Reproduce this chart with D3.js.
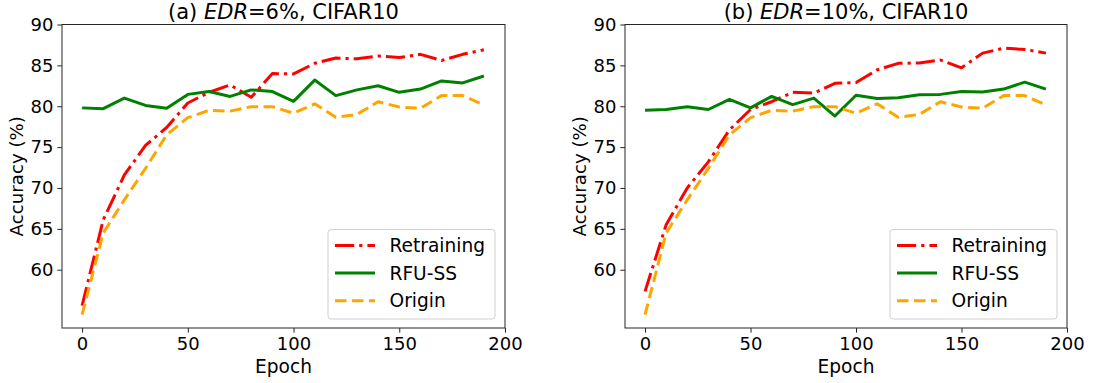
<!DOCTYPE html>
<html>
<head>
<meta charset="utf-8">
<script src="https://cdn.jsdelivr.net/npm/d3@7"></script>
<style>
  html, body { margin: 0; padding: 0; background: #fff; }
  svg { display: block; font-family: "DejaVu Sans", sans-serif; }
</style>
</head>
<body>
<svg id="chart" width="1095" height="383"></svg>
<script>
// ---- data ----
const epochs = [0,10,20,30,40,50,60,70,80,90,100,110,120,130,140,150,160,170,180,190];

const retrainingA = [55.6,66.1,71.6,75.2,77.4,80.4,81.7,82.6,81.1,84.0,83.95,85.25,85.9,85.8,86.15,85.95,86.35,85.6,86.35,86.9];
const rfuA        = [79.8,79.7,81.0,80.1,79.75,81.45,81.8,81.2,82.0,81.8,80.6,83.2,81.3,82.0,82.5,81.7,82.1,83.1,82.85,83.7];
const originA     = [54.5,64.5,68.55,72.4,76.5,78.6,79.5,79.4,79.95,79.95,79.15,80.3,78.65,79.0,80.55,79.9,79.75,81.3,81.3,80.15];

const retrainingB = [57.35,65.5,70.0,73.2,77.1,79.6,80.55,81.7,81.6,82.8,82.9,84.45,85.25,85.3,85.65,84.7,86.5,87.1,86.95,86.5];
const rfuB        = [79.5,79.6,79.95,79.6,80.85,79.8,81.2,80.2,81.0,78.8,81.35,80.95,81.05,81.4,81.45,81.8,81.75,82.1,82.95,82.1];
const originB     = [54.5,64.5,68.55,72.4,76.5,78.6,79.5,79.4,79.95,79.95,79.15,80.3,78.65,79.0,80.55,79.9,79.75,81.3,81.3,80.15];

const xTicks = [0,50,100,150,200];
const yTicks = [60,65,70,75,80,85,90];
const seriesNames = ["Retraining","RFU-SS","Origin"];
const titlesPrefix = ["(a) ","(b) "];
const titlesRate = ["=6%, CIFAR10","=10%, CIFAR10"];
const xLabel = "Epoch";
const yLabel = "Accuracy (%)";

// ---- styles ----
const colors = ["#ff0000","#008000","#ffa500"];
const dashes = ["19.2,5,3.2,5", null, "11.5,5.5"];
const lw = 3;

const svg = d3.select("#chart");

const panels = [
  {left: 62, right: 505, data: [retrainingA, rfuA, originA]},
  {left: 625, right: 1067, data: [retrainingB, rfuB, originB]}
];
const plotTop = 24.5, plotBottom = 328;

panels.forEach((p, i) => {
  const x = d3.scaleLinear().domain([-9.5, 200]).range([p.left, p.right]);
  const y = d3.scaleLinear().domain([52.87, 90]).range([plotBottom, plotTop]);
  const g = svg.append("g");

  // lines
  p.data.forEach((vals, k) => {
    const line = d3.line().x((d, j) => x(epochs[j])).y(d => y(d));
    g.append("path")
      .datum(vals)
      .attr("d", line)
      .attr("fill", "none")
      .attr("stroke", colors[k])
      .attr("stroke-width", lw)
      .attr("stroke-linejoin", "round")
      .attr("stroke-dasharray", dashes[k]);
  });

  // frame
  g.append("rect")
    .attr("x", p.left).attr("y", plotTop)
    .attr("width", p.right - p.left).attr("height", plotBottom - plotTop)
    .attr("fill", "none").attr("stroke", "#262626").attr("stroke-width", 1);

  // axes
  const xa = g.append("g").attr("transform", `translate(0,${plotBottom})`)
    .call(d3.axisBottom(x).tickValues(xTicks).tickSize(4.67).tickPadding(4.5).tickFormat(d3.format("d")));
  const ya = g.append("g").attr("transform", `translate(${p.left},0)`)
    .call(d3.axisLeft(y).tickValues(yTicks).tickSize(4.67).tickPadding(4).tickFormat(d3.format("d")));
  [xa, ya].forEach(a => {
    a.select(".domain").remove();
    a.selectAll("line").attr("stroke", "#262626");
    a.selectAll("text").attr("font-size", 18).attr("fill", "#000").attr("font-family", "DejaVu Sans");
  });

  // title
  const t = g.append("text")
    .attr("x", (p.left + p.right) / 2).attr("y", 18.5)
    .attr("text-anchor", "middle").attr("font-size", 21).attr("fill", "#000");
  t.append("tspan").text(titlesPrefix[i]);
  t.append("tspan").attr("font-style", "italic").text("EDR");
  t.append("tspan").text(titlesRate[i]);

  // x label
  g.append("text")
    .attr("x", (p.left + p.right) / 2).attr("y", 373)
    .attr("text-anchor", "middle").attr("font-size", 18.6).attr("fill", "#000")
    .text(xLabel);

  // y label
  g.append("text")
    .attr("transform", `translate(${p.left - 39},${(plotTop + plotBottom) / 2}) rotate(-90)`)
    .attr("text-anchor", "middle").attr("font-size", 18.2).attr("fill", "#000")
    .text(yLabel);

  // legend
  const lx = p.right - 177, ly = 229.5, lwid = 167, lh = 89.5;
  const leg = g.append("g");
  leg.append("rect")
    .attr("x", lx).attr("y", ly).attr("width", lwid).attr("height", lh)
    .attr("rx", 3).attr("fill", "#fff").attr("fill-opacity", 0.8)
    .attr("stroke", "#d0d0d0").attr("stroke-width", 1);
  seriesNames.forEach((name, k) => {
    const cy = ly + 16 + k * 27.6;
    leg.append("line")
      .attr("x1", lx + 7).attr("x2", lx + 47)
      .attr("y1", cy).attr("y2", cy)
      .attr("stroke", colors[k]).attr("stroke-width", lw)
      .attr("stroke-dasharray", dashes[k]);
    leg.append("text")
      .attr("x", lx + 61.5).attr("y", cy).attr("dy", "0.36em")
      .attr("font-size", 18.6).attr("fill", "#000")
      .text(name);
  });
});
</script>
</body>
</html>
